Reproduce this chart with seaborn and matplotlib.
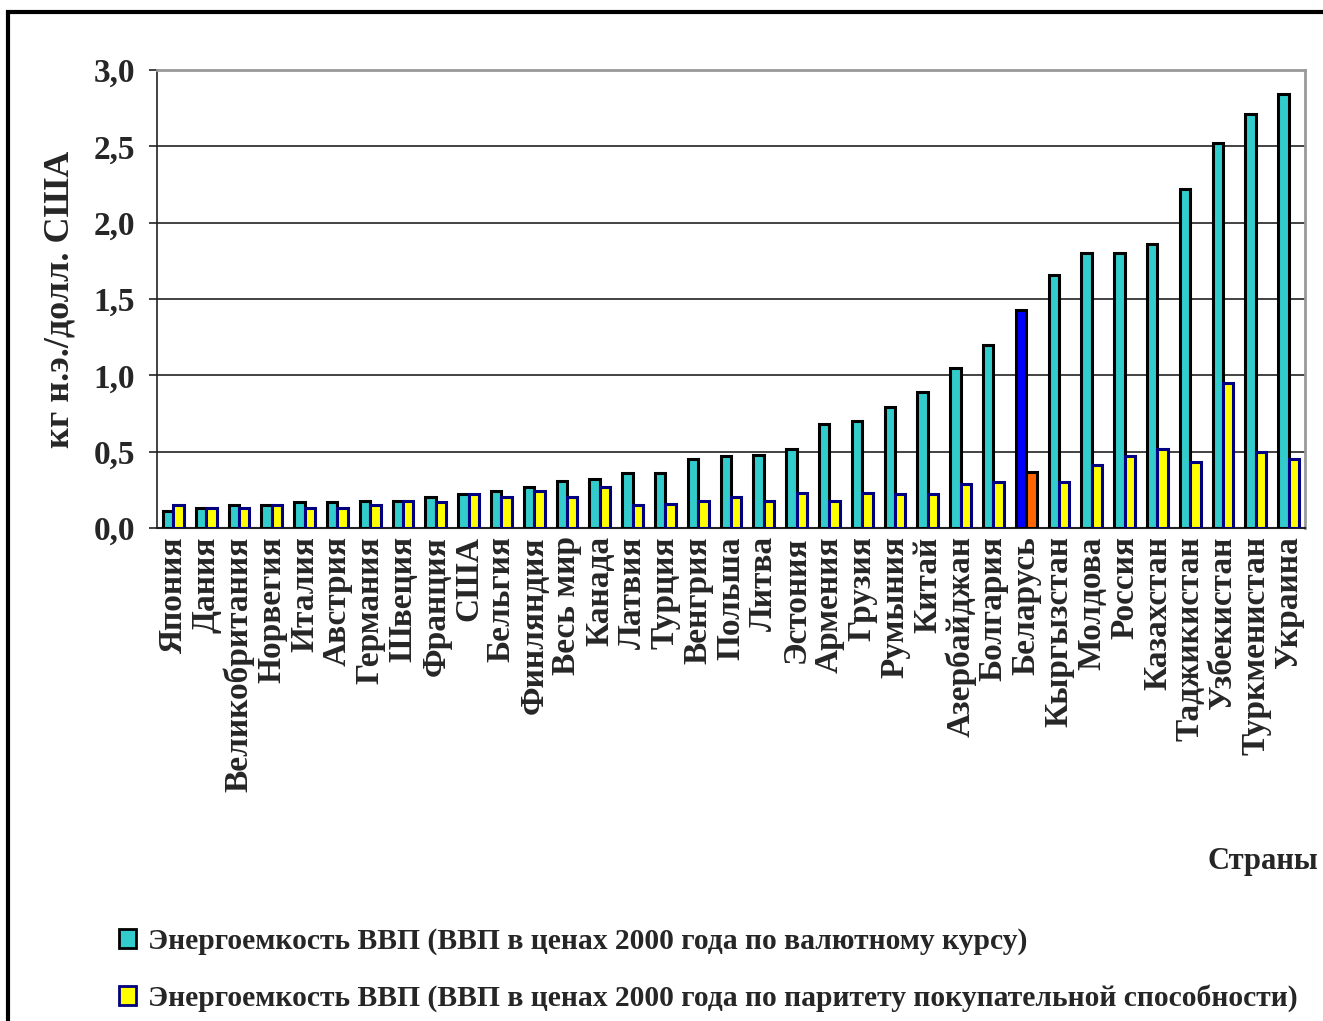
import matplotlib
matplotlib.use("Agg")
import matplotlib.pyplot as plt
import seaborn as sns
import pandas as pd
import numpy as np
from matplotlib.patches import Rectangle
from matplotlib.ticker import FixedLocator

countries = ["Япония", "Дания", "Великобритания", "Норвегия", "Италия", "Австрия",
             "Германия", "Швеция", "Франция", "США", "Бельгия", "Финляндия",
             "Весь мир", "Канада", "Латвия", "Турция", "Венгрия", "Польша",
             "Литва", "Эстония", "Армения", "Грузия", "Румыния", "Китай",
             "Азербайджан", "Болгария", "Беларусь", "Кыргызстан", "Молдова",
             "Россия", "Казахстан", "Таджикистан", "Узбекистан", "Туркменистан",
             "Украина"]
exchange_rate = [0.11, 0.13, 0.15, 0.15, 0.17, 0.17, 0.18, 0.18, 0.20, 0.22, 0.24, 0.27,
                 0.31, 0.32, 0.36, 0.36, 0.45, 0.47, 0.48, 0.52, 0.68, 0.70, 0.79, 0.89,
                 1.05, 1.20, 1.43, 1.66, 1.80, 1.80, 1.86, 2.22, 2.52, 2.71, 2.84]
ppp = [0.15, 0.13, 0.13, 0.15, 0.13, 0.13, 0.15, 0.18, 0.17, 0.22, 0.20, 0.24,
       0.20, 0.27, 0.15, 0.16, 0.18, 0.20, 0.18, 0.23, 0.18, 0.23, 0.22, 0.22,
       0.29, 0.30, 0.37, 0.30, 0.41, 0.47, 0.52, 0.43, 0.95, 0.50, 0.45]
series_names = ["Энергоемкость ВВП (ВВП в ценах 2000 года по валютному курсу)",
                "Энергоемкость ВВП (ВВП в ценах 2000 года по паритету покупательной способности)"]
y_ticks = [0.0, 0.5, 1.0, 1.5, 2.0, 2.5, 3.0]
y_tick_labels = ["0,0", "0,5", "1,0", "1,5", "2,0", "2,5", "3,0"]
highlight = "Беларусь"

df = pd.DataFrame({
    "country": countries * 2,
    "value": exchange_rate + ppp,
    "series": [series_names[0]] * len(countries) + [series_names[1]] * len(countries),
})

sns.set_style("white")
plt.rcParams["font.family"] = ["Liberation Serif", "DejaVu Serif"]
plt.rcParams["font.weight"] = "bold"

fig = plt.figure(figsize=(13.23, 10.21), dpi=100)
ax = fig.add_axes([157 / 1323, 1 - 528 / 1021, (1305 - 157) / 1323, (528 - 70) / 1021])

teal = "#33CCCC"
yellow = "#FFFF00"
sns.barplot(data=df, x="country", y="value", hue="series", order=countries,
            hue_order=series_names, palette=[teal, yellow], width=0.64,
            saturation=1, ax=ax, legend=False, errorbar=None)

edge_colors = ["#000000", "#000080"]
for ci, cont in enumerate(ax.containers):
    for bi, bar in enumerate(cont):
        bar.set_edgecolor(edge_colors[ci])
        bar.set_linewidth(2.2)
        bar.set_zorder(3)
        if countries[bi] == highlight:
            bar.set_facecolor("#0000FF" if ci == 0 else "#FF6600")
            bar.set_edgecolor("#000000")

ax.set_ylim(0, 3.0)
ax.set_xlim(-0.5, len(countries) - 0.5)
ax.set_yticks(y_ticks)
ax.set_yticklabels(y_tick_labels, fontsize=24, fontweight="bold")
ax.yaxis.grid(True, color="#222222", linewidth=1.2, zorder=0)
ax.set_axisbelow(True)

ax.set_xticks(range(len(countries)))
ax.set_xticklabels(countries, rotation=90, fontsize=24, fontweight="bold", va="top")
ax.tick_params(axis="x", which="major", length=0, pad=6)
ax.xaxis.set_minor_locator(FixedLocator(np.arange(-0.5, len(countries), 1.0)))
ax.tick_params(axis="x", which="minor", length=10, width=1.2, color="#222222", direction="out")
ax.tick_params(axis="y", which="major", length=6, width=1.2, color="#222222", direction="out", pad=10, left=True)

ax.set_xlabel("")
ax.set_ylabel("кг н.э./долл. США", fontsize=26, fontweight="bold", labelpad=12)

for side in ["top", "right"]:
    ax.spines[side].set_color("#999999")
    ax.spines[side].set_linewidth(2)
ax.spines["left"].set_color("#222222")
ax.spines["left"].set_linewidth(1.2)
ax.spines["bottom"].set_color("#222222")
ax.spines["bottom"].set_linewidth(1.5)

fig.text(1318 / 1323, 1 - 862 / 1021, "Страны", ha="right", va="center",
         fontsize=22, fontweight="bold")

handles = [Rectangle((0, 0), 1, 1, facecolor=teal, edgecolor="#000000", linewidth=2),
           Rectangle((0, 0), 1, 1, facecolor=yellow, edgecolor="#000080", linewidth=2)]
fig.legend(handles, series_names, loc="lower left", bbox_to_anchor=(92 / 1323, -18 / 1021),
           frameon=False, handlelength=0.6, handleheight=0.6,
           handletextpad=0.4, labelspacing=1.0, prop={"weight": "bold", "size": 21.3})

fig.patches.append(Rectangle((8 / 1323, -0.05), 1.1, 1 - 12 / 1021 + 0.05,
                             transform=fig.transFigure, fill=False,
                             edgecolor="black", linewidth=3))

fig.savefig("out.png", dpi=100)
